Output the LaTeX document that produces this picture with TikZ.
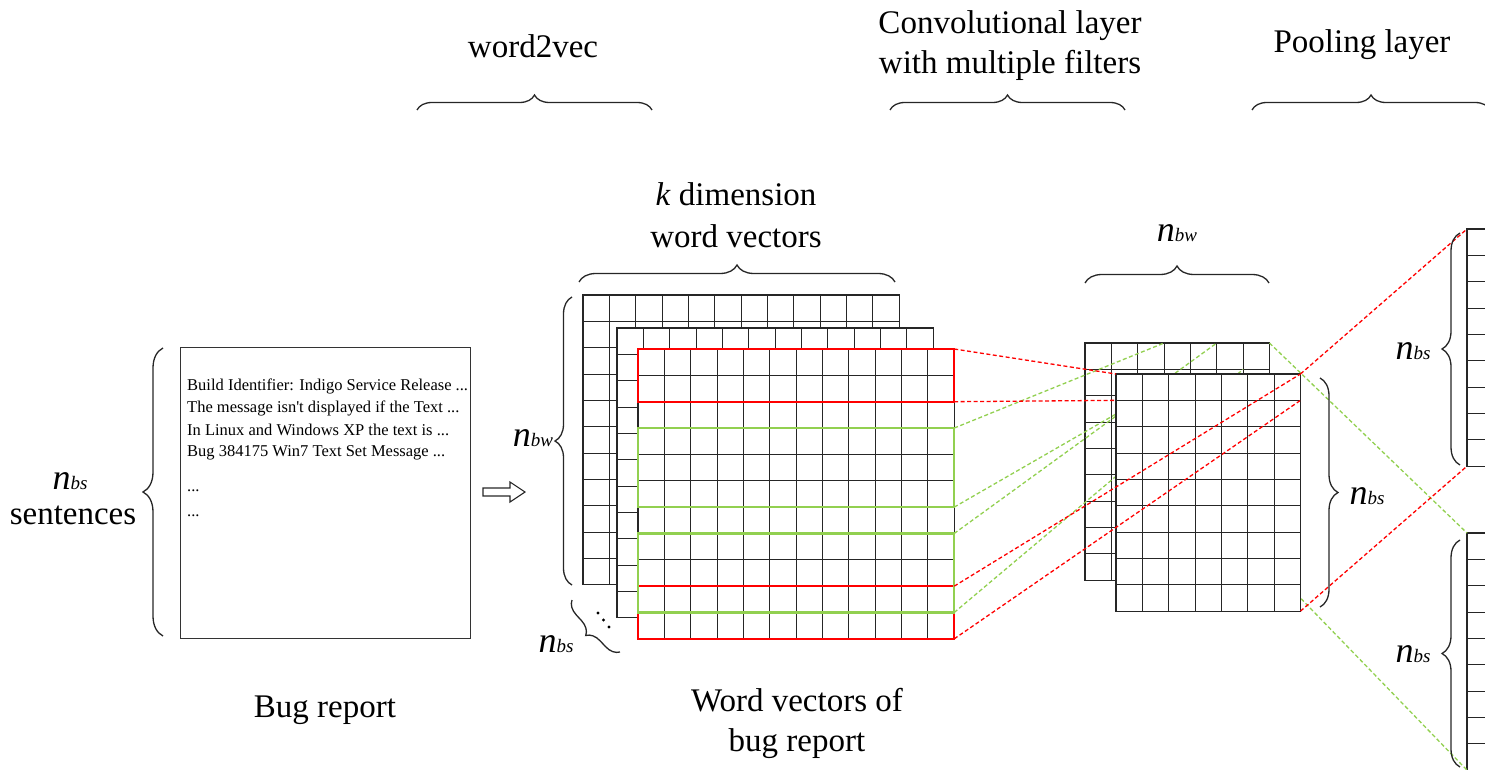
\documentclass[tikz,border=0pt]{standalone}
\usepackage{fontspec}
\setmainfont{Liberation Serif}
\usetikzlibrary{decorations.pathreplacing,calc}
\definecolor{lgreen}{RGB}{146,208,80}
\def\cs{26.35}
\newcommand\cellgrid[5]{%
 \begin{scope}[shift={(#1,#2)}]
  \pgfmathsetmacro\gw{#3*\cs}\pgfmathsetmacro\gh{#4*\cs}
  \coordinate (#5-nw) at (0,0);
  \coordinate (#5-ne) at (\gw,0);
  \coordinate (#5-sw) at (0,\gh);
  \coordinate (#5-se) at (\gw,\gh);
  \draw[gridline,fill=white] (0,0) rectangle (\gw,\gh);
  \foreach \i in {1,...,#3} {\draw[gridline] (\i*\cs,0) -- (\i*\cs,\gh);}
  \foreach \j in {1,...,#4} {\draw[gridline] (0,\j*\cs) -- (\gw,\j*\cs);}
 \end{scope}}
\newcommand\nlab[1]{{\fontsize{36}{36}\selectfont\itshape n}{\fontsize{19}{19}\selectfont\itshape #1}}
\begin{document}
\begin{tikzpicture}[x=1pt,y=-1pt,
  gridline/.style={draw=black!85,line width=1.1pt},
  redbox/.style={draw=red,line width=2.4pt},
  greenbox/.style={draw=lgreen,line width=2.4pt},
  reddash/.style={draw=red,line width=1.3pt,dash pattern=on 4pt off 2.5pt},
  greendash/.style={draw=lgreen,line width=1.3pt,dash pattern=on 4pt off 2.5pt},
  brc/.style={decorate,decoration={brace,amplitude=#1},line width=1.3pt,draw=black!85},
  big/.style={font=\fontsize{33}{40}\selectfont,inner sep=0pt},
  small/.style={font=\fontsize{16.5}{22}\selectfont,inner sep=0pt},
  nl/.style={inner sep=0pt}
]
\useasboundingbox (0,0) rectangle (1485,770);

% ---------- top labels and braces
\node[big] (w2v) at (533,46) {word2vec};
\node[big,align=center] (conv) at (1010,46) {Convolutional layer\\with multiple filters};
\node[big] (pool) at (1362,45) {Pooling layer};
\draw[brc=15] (417,110) -- (652,110);
\draw[brc=15] (890,110) -- (1125,110);
\draw[brc=15] (1252,110) -- (1490,110);

% ---------- bug report
\node[draw=black!80,line width=1.2pt,minimum width=290pt,minimum height=291pt,anchor=north west,inner sep=0pt] (box) at (180,347) {};
\node[small,anchor=west] (t1) at (187,386) {Build Identifier: Indigo Service Release ...};
\node[small,anchor=west] (t2) at (187,408) {The message isn\textquotesingle t displayed if the Text ...};
\node[small,anchor=west] (t3) at (187,430) {In Linux and Windows XP the text is ...};
\node[small,anchor=west] (t4) at (187,453) {Bug 384175 Win7 Text Set Message ...};
\node[small,anchor=west] (t5) at (187,491) {...};
\node[small,anchor=west] (t6) at (187,516) {...};
\draw[brc=20] (163,636) -- (163,348);
\node[nl] (nbs1) at (70,481) {\nlab{bs}};
\node[big] (sent) at (73,515) {sentences};
\node[big] (bug) at (325,710) {Bug report};
\draw[line width=1.1pt,draw=black!85] (483,488) -- (510,488) -- (510,482) -- (525,492) -- (510,502) -- (510,496) -- (483,496) -- cycle;

% ---------- word vectors
\cellgrid{583}{295}{12}{11}{wb}
\cellgrid{617}{328}{12}{11}{wm}
\cellgrid{638}{349}{12}{11}{wf}
\coordinate (r1tl) at (638,349);    \coordinate (r1tr) at (954.2,349);
\coordinate (r1bl) at (638,401.7);  \coordinate (r1br) at (954.2,401.7);
\coordinate (g1tl) at (638,428.05); \coordinate (g1tr) at (954.2,428.05);
\coordinate (g1br) at (954.2,507.1);
\coordinate (g2tl) at (638,533.45); \coordinate (g2tr) at (954.2,533.45);
\coordinate (g2br) at (954.2,612.5);
\coordinate (r2tl) at (638,586.15); \coordinate (r2tr) at (954.2,586.15);
\coordinate (r2br) at (954.2,638.85);
\draw[redbox] (r1tl) rectangle (r1br);
\draw[redbox] (r2tl) rectangle (r2br);
\draw[greenbox] (g1tl) rectangle (g1br);
\draw[greenbox] (g2tl) rectangle (g2br);

\node[big,align=center] (kdim) at (736,215) {\textit{k} dimension\\[2pt]word vectors};
\draw[brc=17] (579,282) -- (895,282);
\draw[brc=17] (572,585) -- (572,297);
\node[nl] (nbw1) at (533,438) {\nlab{bw}};
\draw[brc=14] (620,652) -- (572,600);
\node[nl] (nbs2) at (556,644) {\nlab{bs}};
\fill (598,613) circle (1.7) (603.5,620) circle (1.7) (609,627) circle (1.7);
\node[big,align=center] (wvb) at (797,723) {Word vectors of\\bug report};

% ---------- convolution layer
\cellgrid{1085}{343}{7}{9}{cb}
\coordinate (cbt3) at (1164.05,343);
\coordinate (cbt5) at (1216.75,343);
\coordinate (cb61) at (1243.1,369.35);
\coordinate (g2end) at (1116,414);
\coordinate (cbr) at (1269.45,566);
\draw[greendash] (g1tr) -- (cbt3);
\draw[greendash] (g1br) -- (g2end);
\draw[greendash] (g2tr) -- (cbt5);
\draw[greendash] (g2br) -- (cb61);
\cellgrid{1467}{229}{1}{9}{pt}
\cellgrid{1467}{533}{1}{9}{pb}
\draw[greendash] (cb-ne) -- (pb-nw);
\draw[greendash] (cbr) -- (pb-sw);
\cellgrid{1116}{374}{7}{9}{cf}
\coordinate (cfl1) at (1116,400.35);
\coordinate (cfr1) at (1300.45,400.35);
\draw[reddash] (r1tr) -- (cf-nw);
\draw[reddash] (r1br) -- (cfl1);
\draw[reddash] (r2tr) -- (cf-ne);
\draw[reddash] (r2br) -- (cfr1);
\draw[reddash] (cf-ne) -- (pt-nw);
\draw[reddash] (cf-se) -- (pt-sw);

\draw[brc=17] (1085,283) -- (1269,283);
\node[nl] (nbw2) at (1177,233) {\nlab{bw}};
\draw[brc=18] (1320,378) -- (1320,607);
\node[nl] (nbs3) at (1367,496) {\nlab{bs}};

% ---------- pooling
\draw[brc=18] (1460,465) -- (1460,233);
\node[nl] (nbs4) at (1413,351) {\nlab{bs}};
\draw[brc=18] (1460,767) -- (1460,540);
\node[nl] (nbs5) at (1413,654) {\nlab{bs}};
\end{tikzpicture}
\end{document}
